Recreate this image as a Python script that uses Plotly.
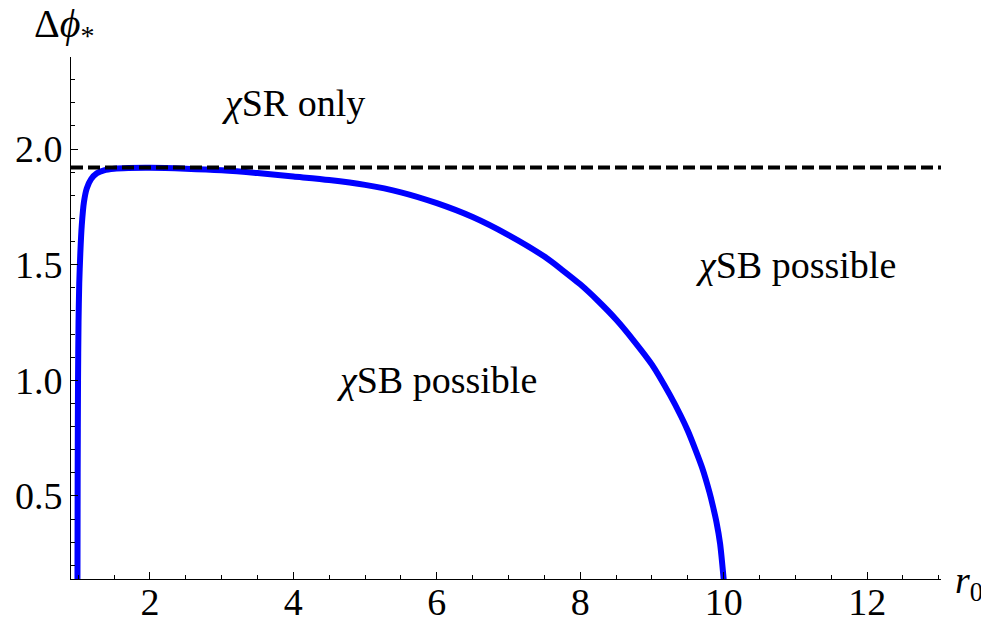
import plotly.graph_objects as go

# boundary curve
r0 = [0.99, 0.993, 0.998, 1.005, 1.015, 1.03, 1.05, 1.08, 1.12, 1.18, 1.26, 1.36, 1.5, 1.7,
      2.0, 2.5, 3.0, 3.5, 4.0, 4.5, 5.0, 5.5, 6.0, 6.5, 7.0, 7.5, 7.75, 8.0, 8.25, 8.5, 8.75,
      9.0, 9.25, 9.4, 9.5, 9.6, 9.7, 9.8, 9.85, 9.9, 9.95, 10.0]
dphi = [0.14, 0.6, 1.0, 1.25, 1.42, 1.55, 1.67, 1.77, 1.83, 1.87, 1.895, 1.908, 1.915, 1.918,
        1.919, 1.915, 1.908, 1.896, 1.881, 1.866, 1.845, 1.813, 1.766, 1.706, 1.628, 1.535, 1.477,
        1.415, 1.343, 1.263, 1.170, 1.068, 0.937, 0.848, 0.782, 0.705, 0.622, 0.518, 0.456, 0.386,
        0.294, 0.14]

dphi_max = 1.92
x_range = [0.9, 13.03]
y_range = [0.141, 2.398]

labels = ["<i>χ</i>SR only", "<i>χ</i>SB possible", "<i>χ</i>SB possible"]
label_x = [4.0, 11.0, 6.0]
label_y = [2.2, 1.5, 1.0]

serif = "Liberation Serif"

fig = go.Figure()

fig.add_trace(go.Scatter(
    x=r0, y=dphi, mode="lines",
    line=dict(color="#0000ff", width=6, shape="spline", smoothing=0.7),
    cliponaxis=True,
))

fig.add_trace(go.Scatter(
    x=x_range, y=[dphi_max, dphi_max], mode="lines",
    line=dict(color="black", width=4, dash="12px,5px"),
))

for t, x, y in zip(labels, label_x, label_y):
    fig.add_annotation(x=x, y=y, text=t, showarrow=False,
                       font=dict(family=serif, size=38, color="black"))

fig.add_annotation(xref="paper", yref="paper", x=-0.045, y=1.06, xanchor="left", yanchor="middle",
                   text="Δ<i>ϕ</i><sub>*</sub>", showarrow=False,
                   font=dict(family=serif, size=40, color="black"))
fig.add_annotation(xref="paper", yref="paper", x=1.014, y=-0.057, xanchor="left", yanchor="bottom",
                   text="<i>r</i><sub>0</sub>", showarrow=False,
                   font=dict(family=serif, size=38, color="black"))

axis_common = dict(
    showgrid=False, zeroline=False, showline=True, linecolor="black", linewidth=1,
    ticks="inside", tickcolor="black", ticklen=7, tickwidth=1,
    tickfont=dict(family=serif, size=38, color="black"),
)

fig.update_xaxes(range=x_range, tickvals=[2, 4, 6, 8, 10, 12], ticklabelstandoff=-11,
                 minor=dict(dtick=0.5, tick0=0, ticks="inside", ticklen=4, tickcolor="black"),
                 **axis_common)
fig.update_yaxes(range=y_range, tickvals=[0.5, 1.0, 1.5, 2.0], tickformat=".1f",
                 minor=dict(dtick=0.1, tick0=0, ticks="inside", ticklen=4, tickcolor="black"),
                 **axis_common)

# page body adds an 8px offset, so the figure is 8px smaller and margins compensate
fig.update_layout(
    width=981, height=611,
    margin=dict(l=63, r=48, t=49, b=40, autoexpand=False),
    plot_bgcolor="white", paper_bgcolor="white",
    showlegend=False,
)

fig.write_html("out.html")
